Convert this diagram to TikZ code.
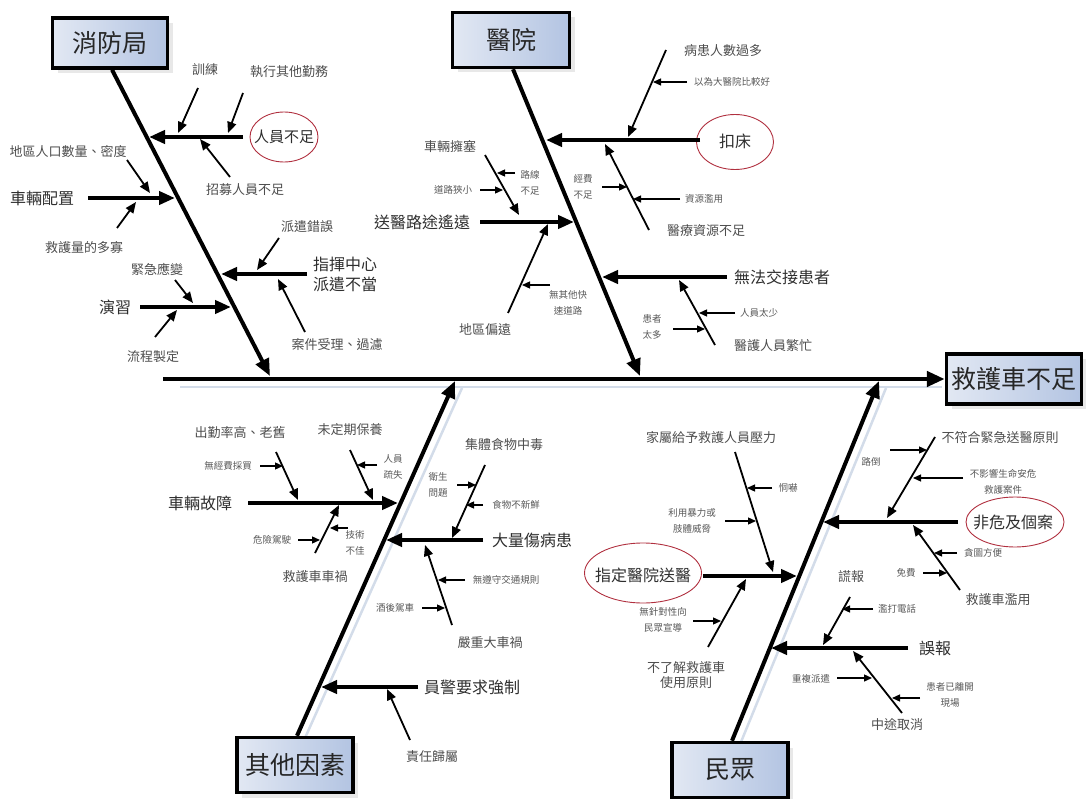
\documentclass[tikz,border=0pt]{standalone}
\usepackage{fontspec}
\setmainfont{Noto Sans CJK TC}
\usetikzlibrary{arrows.meta,shapes.geometric,shadows}
\definecolor{txt}{HTML}{2E2E2E}
\definecolor{boxL}{HTML}{E2E8F3}
\definecolor{boxR}{HTML}{B3C4E2}
\definecolor{ellred}{HTML}{B0303F}
\definecolor{shline}{HTML}{D3DCE9}
\tikzset{
  catbox/.style={draw=black, line width=3.5pt, left color=boxL, right color=boxR,
    minimum width=#1, minimum height=52pt, inner sep=0pt,
    font=\fontsize{25}{28}\selectfont, text=black!85,
    drop shadow={shadow xshift=5pt, shadow yshift=-5pt, fill=gray!35, opacity=.5}},
  spinearr/.style={line width=4.5pt, -{Triangle[length=18pt,width=15pt]}},
  bonearr/.style={line width=4pt, -{Triangle[length=17pt,width=14pt]}},
  brarr/.style={line width=4pt, -{Triangle[length=16pt,width=13pt]}},
  subarr/.style={line width=1.8pt, -{Triangle[length=11pt,width=9pt]}},
  tinyarr/.style={line width=1.3pt, -{Triangle[length=8pt,width=7pt]}},
  shl/.style={line width=2.5pt, shline},
  big/.style={font=\fontsize{16}{20}\selectfont, text=txt, align=center, inner sep=1pt},
  mid/.style={font=\fontsize{13}{15}\selectfont, text=txt!85, align=center, inner sep=1pt},
  sml/.style={font=\fontsize{9.5}{16}\selectfont, text=txt!80, align=center, inner sep=1pt},
  oval/.style={draw=ellred, line width=0.9pt, ellipse, inner sep=0pt,
    font=\fontsize{16}{20}\selectfont, text=txt}
}
\begin{document}
\begin{tikzpicture}[x=1pt,y=-1pt]
\useasboundingbox (0,0) rectangle (1086,799);

% ---------- faint shadow lines ----------
\coordinate (shA) at (180,387); \coordinate (shB) at (942,387);
\coordinate (shC) at (305,738); \coordinate (shD) at (462,388);
\coordinate (shE) at (741,742); \coordinate (shF) at (886,388);
\draw[shl] (shA) -- (shB);
\draw[shl] (shC) -- (shD);
\draw[shl] (shE) -- (shF);

% ---------- category boxes ----------
\node[catbox=115pt, minimum height=50pt] (fire) at (110,43) {消防局};
\node[catbox=117pt, minimum height=55pt] (hosp) at (511,40) {醫院};
\node[catbox=135pt, minimum height=50pt] (eff) at (1014,379) {救護車不足};
\node[catbox=116pt, minimum height=55pt] (other) at (295,765) {其他因素};
\node[catbox=116pt, minimum height=55pt] (people) at (730,770) {民眾};

% ---------- spine and main bones ----------
\coordinate (spS) at (163,379);
\draw[spinearr] (spS) -- (eff.west);
\coordinate (f1) at (270,376);
\coordinate (h1) at (640,376);
\coordinate (o1) at (455,381);
\coordinate (p1) at (879,381);
\draw[bonearr] (fire.south -| 112,0) -- (f1);
\draw[bonearr] (hosp.south -| 513,0) -- (h1);
\draw[bonearr] (other.north -| 297,0) -- (o1);
\draw[bonearr] (people.north -| 732,0) -- (p1);

% ================= 消防局 =================
\node[oval, minimum width=68pt, minimum height=50pt] (e1) at (284,137) {};
\node[font=\fontsize{15}{18}\selectfont, text=txt] (t_rybz) at (284,137) {人員不足};
\coordinate (a1s) at (243,137); \coordinate (a1e) at (149,137);
\draw[brarr] (a1s) -- (a1e);
\node[mid] (t_xl) at (205,70) {訓練};
\coordinate (a2s) at (198,88); \coordinate (a2e) at (178,133);
\draw[subarr] (a2s) -- (a2e);
\node[mid] (t_zx) at (289,72) {執行其他勤務};
\coordinate (a3s) at (243,93); \coordinate (a3e) at (228,133);
\draw[subarr] (a3s) -- (a3e);
\node[mid] (t_zm) at (245,190) {招募人員不足};
\coordinate (a4s) at (230,177); \coordinate (a4e) at (200,139);
\draw[subarr] (a4s) -- (a4e);

\node[big] (t_clpz) at (42,198) {車輛配置};
\coordinate (a5s) at (88,198); \coordinate (a5e) at (175,198);
\draw[brarr] (a5s) -- (a5e);
\node[mid] (t_dq) at (68,152) {地區人口數量、密度};
\coordinate (a6s) at (127,160); \coordinate (a6e) at (150,193);
\draw[subarr] (a6s) -- (a6e);
\node[mid] (t_jhl) at (84,248) {救護量的多寡};
\coordinate (a7s) at (117,228); \coordinate (a7e) at (136,202);
\draw[subarr] (a7s) -- (a7e);

\node[big] (t_zh) at (345,274) {指揮中心\\派遣不當};
\coordinate (a8s) at (307,274); \coordinate (a8e) at (221,274);
\draw[brarr] (a8s) -- (a8e);
\node[mid] (t_pq) at (307,227) {派遣錯誤};
\coordinate (a9s) at (279,238); \coordinate (a9e) at (257,270);
\draw[subarr] (a9s) -- (a9e);
\node[mid] (t_aj) at (337,345) {案件受理、過濾};
\coordinate (a10s) at (305,332); \coordinate (a10e) at (278,279);
\draw[subarr] (a10s) -- (a10e);

\node[big] (t_yx) at (115,307) {演習};
\coordinate (a11s) at (140,307); \coordinate (a11e) at (231,307);
\draw[brarr] (a11s) -- (a11e);
\node[mid] (t_jj) at (157,269) {緊急應變};
\coordinate (a12s) at (175,280); \coordinate (a12e) at (193,303);
\draw[subarr] (a12s) -- (a12e);
\node[mid] (t_lc) at (153,357) {流程製定};
\coordinate (a13s) at (155,337); \coordinate (a13e) at (177,310);
\draw[subarr] (a13s) -- (a13e);

% ================= 醫院 =================
\node[oval, minimum width=77pt, minimum height=55pt] (e2) at (735,142) {};
\node[font=\fontsize{16}{20}\selectfont, text=txt] (t_kc) at (735,141) {扣床};
\coordinate (b1s) at (700,140); \coordinate (b1e) at (546,140);
\draw[brarr] (b1s) -- (b1e);
\node[mid] (t_bh) at (723,51) {病患人數過多};
\coordinate (b2s) at (666,50); \coordinate (b2e) at (628,137);
\draw[subarr] (b2s) -- (b2e);
\node[sml] (t_yw) at (732,82) {以為大醫院比較好};
\coordinate (b3s) at (687,82); \coordinate (b3e) at (653,82);
\draw[tinyarr] (b3s) -- (b3e);
\node[mid] (t_yl) at (706,231) {醫療資源不足};
\coordinate (b4s) at (649,230); \coordinate (b4e) at (605,144);
\draw[subarr] (b4s) -- (b4e);
\node[sml] (t_jf) at (583,187) {經費\\不足};
\coordinate (b5s) at (602,187); \coordinate (b5e) at (627,187);
\draw[tinyarr] (b5s) -- (b5e);
\node[sml] (t_zy) at (704,199) {資源濫用};
\coordinate (b6s) at (680,199); \coordinate (b6e) at (633,199);
\draw[tinyarr] (b6s) -- (b6e);

\node[big] (t_sy) at (422,222) {送醫路途遙遠};
\coordinate (b7s) at (480,222); \coordinate (b7e) at (574,222);
\draw[brarr] (b7s) -- (b7e);
\node[mid] (t_ys) at (450,147) {車輛擁塞};
\coordinate (b8s) at (485,155); \coordinate (b8e) at (519,215);
\draw[subarr] (b8s) -- (b8e);
\node[sml] (t_dl) at (453,190) {道路狹小};
\coordinate (b9s) at (480,190); \coordinate (b9e) at (503,190);
\draw[tinyarr] (b9s) -- (b9e);
\node[sml] (t_lx) at (530,183) {路線\\不足};
\coordinate (b10s) at (515,173); \coordinate (b10e) at (497,173);
\draw[tinyarr] (b10s) -- (b10e);
\node[mid] (t_py) at (485,330) {地區偏遠};
\coordinate (b11s) at (508,313); \coordinate (b11e) at (548,224);
\draw[subarr] (b11s) -- (b11e);
\node[sml] (t_wq) at (568,303) {無其他快\\速道路};
\coordinate (b12s) at (550,285); \coordinate (b12e) at (522,285);
\draw[tinyarr] (b12s) -- (b12e);

\node[big] (t_wf) at (782,277) {無法交接患者};
\coordinate (b13s) at (727,277); \coordinate (b13e) at (602,277);
\draw[brarr] (b13s) -- (b13e);
\node[mid] (t_yh) at (773,346) {醫護人員繁忙};
\coordinate (b14s) at (715,345); \coordinate (b14e) at (679,280);
\draw[subarr] (b14s) -- (b14e);
\node[sml] (t_rs) at (759,313) {人員太少};
\coordinate (b15s) at (735,313); \coordinate (b15e) at (699,313);
\draw[tinyarr] (b15s) -- (b15e);
\node[sml] (t_hz) at (652,327) {患者\\太多};
\coordinate (b16s) at (673,329); \coordinate (b16e) at (705,329);
\draw[tinyarr] (b16s) -- (b16e);

% ================= 其他因素 =================
\node[big] (t_clgz) at (200,503) {車輛故障};
\coordinate (c1s) at (248,503); \coordinate (c1e) at (398,503);
\draw[brarr] (c1s) -- (c1e);
\node[mid] (t_cq) at (240,433) {出勤率高、老舊};
\coordinate (c2s) at (276,452); \coordinate (c2e) at (298,500);
\draw[subarr] (c2s) -- (c2e);
\node[sml] (t_wj) at (228,466) {無經費採買};
\coordinate (c3s) at (260,466); \coordinate (c3e) at (283,466);
\draw[tinyarr] (c3s) -- (c3e);
\node[mid] (t_wd) at (350,430) {未定期保養};
\coordinate (c4s) at (350,450); \coordinate (c4e) at (373,500);
\draw[subarr] (c4s) -- (c4e);
\node[sml] (t_ry) at (393,467) {人員\\疏失};
\coordinate (c5s) at (377,465); \coordinate (c5e) at (357,465);
\draw[tinyarr] (c5s) -- (c5e);
\node[mid] (t_jhc) at (315,577) {救護車車禍};
\coordinate (c6s) at (315,553); \coordinate (c6e) at (339,505);
\draw[subarr] (c6s) -- (c6e);
\node[sml] (t_wx) at (272,540) {危險駕駛};
\coordinate (c7s) at (298,540); \coordinate (c7e) at (320,540);
\draw[tinyarr] (c7s) -- (c7e);
\node[sml] (t_js) at (355,543) {技術\\不佳};
\coordinate (c8s) at (348,528); \coordinate (c8e) at (330,528);
\draw[tinyarr] (c8s) -- (c8e);

\node[big] (t_dl2) at (532,540) {大量傷病患};
\coordinate (c9s) at (483,540); \coordinate (c9e) at (386,540);
\draw[brarr] (c9s) -- (c9e);
\node[mid] (t_jt) at (504,445) {集體食物中毒};
\coordinate (c10s) at (485,465); \coordinate (c10e) at (452,538);
\draw[subarr] (c10s) -- (c10e);
\node[sml] (t_ws) at (438,485) {衛生\\問題};
\coordinate (c11s) at (457,485); \coordinate (c11e) at (476,485);
\draw[tinyarr] (c11s) -- (c11e);
\node[sml] (t_sw) at (516,505) {食物不新鮮};
\coordinate (c12s) at (483,505); \coordinate (c12e) at (466,505);
\draw[tinyarr] (c12s) -- (c12e);
\node[mid] (t_yz) at (490,643) {嚴重大車禍};
\coordinate (c13s) at (452,625); \coordinate (c13e) at (425,545);
\draw[subarr] (c13s) -- (c13e);
\node[sml] (t_wz) at (506,580) {無遵守交通規則};
\coordinate (c14s) at (465,580); \coordinate (c14e) at (438,580);
\draw[tinyarr] (c14s) -- (c14e);
\node[sml] (t_jh) at (395,608) {酒後駕車};
\coordinate (c15s) at (422,608); \coordinate (c15e) at (445,608);
\draw[tinyarr] (c15s) -- (c15e);

\node[big] (t_yj) at (472,687) {員警要求強制};
\coordinate (c16s) at (418,687); \coordinate (c16e) at (321,687);
\draw[brarr] (c16s) -- (c16e);
\node[mid] (t_zr) at (432,757) {責任歸屬};
\coordinate (c17s) at (410,740); \coordinate (c17e) at (387,689);
\draw[subarr] (c17s) -- (c17e);

% ================= 民眾 =================
\node[oval, minimum width=98pt, minimum height=50pt] (e3) at (1015,522) {};
\node[font=\fontsize{16}{20}\selectfont, text=txt] (t_fw) at (1013,522) {非危及個案};
\coordinate (d1s) at (958,522); \coordinate (d1e) at (823,522);
\draw[brarr] (d1s) -- (d1e);
\node[mid] (t_bf) at (1000,438) {不符合緊急送醫原則};
\coordinate (d2s) at (935,437); \coordinate (d2e) at (887,518);
\draw[subarr] (d2s) -- (d2e);
\node[sml] (t_ld) at (871,462) {路倒};
\coordinate (d3s) at (890,450); \coordinate (d3e) at (927,450);
\draw[tinyarr] (d3s) -- (d3e);
\node[sml] (t_by) at (1003,482) {不影響生命安危\\救護案件};
\coordinate (d4s) at (963,478); \coordinate (d4e) at (913,478);
\draw[tinyarr] (d4s) -- (d4e);
\node[mid] (t_jl) at (998,600) {救護車濫用};
\coordinate (d5s) at (960,590); \coordinate (d5e) at (913,525);
\draw[subarr] (d5s) -- (d5e);
\node[sml] (t_tt) at (983,553) {貪圖方便};
\coordinate (d6s) at (957,553); \coordinate (d6e) at (934,553);
\draw[tinyarr] (d6s) -- (d6e);
\node[sml] (t_mf) at (906,573) {免費};
\coordinate (d7s) at (923,573); \coordinate (d7e) at (947,573);
\draw[tinyarr] (d7s) -- (d7e);

\node[oval, minimum width=117pt, minimum height=60pt] (e4) at (643,573) {};
\node[font=\fontsize{16}{20}\selectfont, text=txt] (t_zd) at (643,575) {指定醫院送醫};
\coordinate (d8s) at (703,576); \coordinate (d8e) at (797,576);
\draw[brarr] (d8s) -- (d8e);
\node[mid] (t_js2) at (711,438) {家屬給予救護人員壓力};
\coordinate (d9s) at (735,452); \coordinate (d9e) at (773,572);
\draw[subarr] (d9s) -- (d9e);
\node[sml] (t_dh) at (788,488) {恫嚇};
\coordinate (d10s) at (772,488); \coordinate (d10e) at (747,488);
\draw[tinyarr] (d10s) -- (d10e);
\node[sml] (t_ly) at (692,521) {利用暴力或\\肢體威脅};
\coordinate (d11s) at (725,521); \coordinate (d11e) at (756,521);
\draw[tinyarr] (d11s) -- (d11e);
\node[mid] (t_bl) at (686,675) {不了解救護車\\使用原則};
\coordinate (d12s) at (708,647); \coordinate (d12e) at (746,579);
\draw[subarr] (d12s) -- (d12e);
\node[sml] (t_wzd) at (663,620) {無針對性向\\民眾宣導};
\coordinate (d13s) at (693,621); \coordinate (d13e) at (721,621);
\draw[tinyarr] (d13s) -- (d13e);

\node[big] (t_wb) at (935,648) {誤報};
\coordinate (d14s) at (908,648); \coordinate (d14e) at (771,648);
\draw[brarr] (d14s) -- (d14e);
\node[mid] (t_hb) at (851,577) {謊報};
\coordinate (d15s) at (850,597); \coordinate (d15e) at (823,645);
\draw[subarr] (d15s) -- (d15e);
\node[sml] (t_ld2) at (897,609) {濫打電話};
\coordinate (d16s) at (873,609); \coordinate (d16e) at (842,609);
\draw[tinyarr] (d16s) -- (d16e);
\node[mid] (t_zt) at (897,725) {中途取消};
\coordinate (d17s) at (902,713); \coordinate (d17e) at (853,651);
\draw[subarr] (d17s) -- (d17e);
\node[sml] (t_cf) at (811,679) {重複派遣};
\coordinate (d18s) at (837,678); \coordinate (d18e) at (872,678);
\draw[tinyarr] (d18s) -- (d18e);
\node[sml] (t_hzl) at (950,695) {患者已離開\\現場};
\coordinate (d19s) at (920,698); \coordinate (d19e) at (892,698);
\draw[tinyarr] (d19s) -- (d19e);
\end{tikzpicture}
\end{document}
